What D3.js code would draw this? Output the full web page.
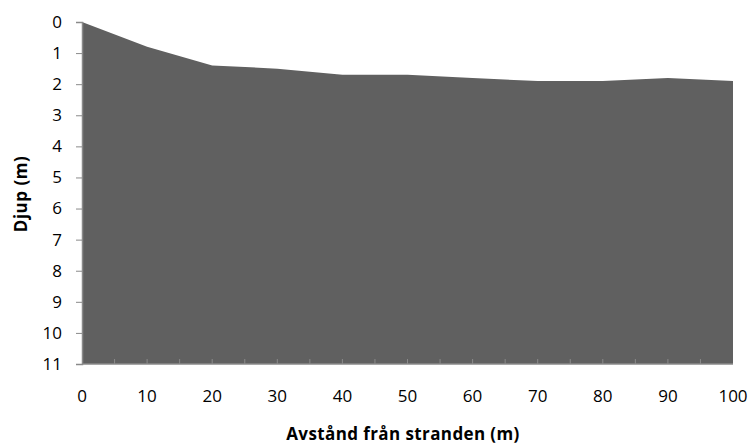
<!DOCTYPE html>
<html><head><meta charset="utf-8">
<script src="https://cdn.jsdelivr.net/npm/d3@7"></script>
<style>body{margin:0;background:#fff;} text{font-family:"Open Sans",sans-serif;}</style>
</head><body><svg id="c" width="752" height="445"></svg>
<script>
const distances = [0, 10, 20, 30, 40, 50, 60, 70, 80, 90, 100];
const depths = [0, 0.8, 1.4, 1.5, 1.7, 1.7, 1.8, 1.9, 1.9, 1.8, 1.9];
const xTicks = [0, 10, 20, 30, 40, 50, 60, 70, 80, 90, 100];
const yTicks = [0, 1, 2, 3, 4, 5, 6, 7, 8, 9, 10, 11];
const xTitle = "Avstånd från stranden (m)";
const yTitle = "Djup (m)";

const svg = d3.select("#c");
const x = d3.scaleLinear().domain([0, 100]).range([82, 733]);
const y = d3.scaleLinear().domain([0, 11]).range([22, 364]);
const data = distances.map((d, i) => ({d, v: depths[i]}));

svg.append("path").datum(data)
  .attr("fill", "#606060")
  .attr("d", d3.area().x(p => x(p.d)).y0(y(11)).y1(p => y(p.v)));

// x minor ticks (inside, every 5)
const minor = d3.range(5, 100, 5);
svg.selectAll(".mt").data(minor).enter().append("line")
  .attr("x1", d => x(d)).attr("x2", d => x(d))
  .attr("y1", y(11)).attr("y2", y(11) - 5)
  .attr("stroke", "#8a8a8a").attr("stroke-width", 1);

// y axis
const yAxis = svg.append("g").attr("transform", `translate(${x(0)},0)`)
  .call(d3.axisLeft(y).tickValues(yTicks).tickSize(6).tickPadding(14));
yAxis.select(".domain").attr("stroke", "#8a8a8a").attr("stroke-width", 1.5);
yAxis.selectAll(".tick line").attr("stroke", "#8a8a8a");
yAxis.selectAll("text").attr("font-size", 17).attr("fill", "#000").style("font-family", "'Open Sans', sans-serif");

// x axis
svg.append("line").attr("x1", x(0)).attr("x2", x(100)).attr("y1", y(11)).attr("y2", y(11))
  .attr("stroke", "#8a8a8a").attr("stroke-width", 1.5);
svg.selectAll(".xl").data(xTicks).enter().append("text")
  .attr("x", d => x(d)).attr("y", 402).attr("text-anchor", "middle")
  .attr("font-size", 17).attr("fill", "#000").text(d => d);

svg.append("text").attr("x", 403).attr("y", 440).attr("text-anchor", "middle")
  .attr("font-size", 17).attr("font-weight", "bold").attr("letter-spacing", 0.4).text(xTitle);
svg.append("text").attr("transform", "translate(27,194) rotate(-90)").attr("text-anchor", "middle")
  .attr("font-size", 17).attr("font-weight", "bold").attr("letter-spacing", 0.5).text(yTitle);
</script></body></html>
